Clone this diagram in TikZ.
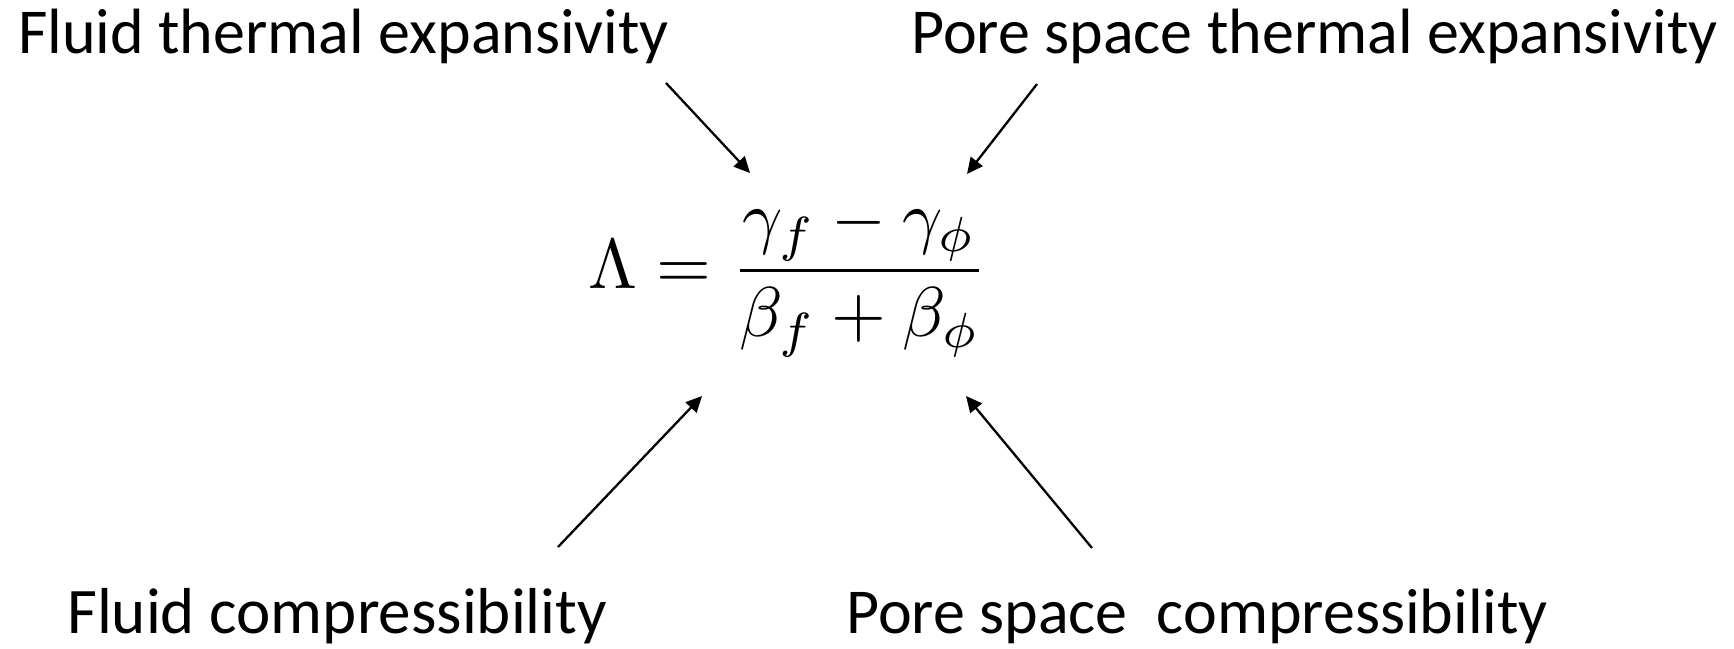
\documentclass[tikz,border=0pt]{standalone}
\usepackage{amsmath}
\usepackage{graphicx}
\usepackage{fontspec}
\setmainfont{Carlito}
\usetikzlibrary{arrows.meta}
\tikzset{
  lbl/.style={inner sep=0pt, anchor=base west, font=\fontsize{64}{77}\selectfont},
  arr/.style={line width=2.3pt, -{Triangle[length=16pt,width=15pt]}},
}
\begin{document}
\begin{tikzpicture}[x=1pt,y=-1pt]
\useasboundingbox (0,0) rectangle (1734,648);
\node[lbl] (fte) at (18,53) {Fluid thermal expansivity};
\node[lbl] (pte) at (911,53) {Pore space thermal expansivity};
\node[lbl, font=\fontsize{65}{78}\selectfont] (fc) at (67,633) {Fluid compressibility};
\node[lbl] (pc) at (846,633) {Pore space\ \ compressibility};
\node[inner sep=0pt] (eq) at (788,278)
  {\scalebox{7.05}{$\displaystyle\Lambda = \frac{\gamma_f - \gamma_\phi}{\beta_f + \beta_\phi}$}};
\coordinate (s1) at (666,83);
\coordinate (t1) at (750,173);
\coordinate (s2) at (1037,84);
\coordinate (t2) at (967,174);
\coordinate (s3) at (558,547);
\coordinate (t3) at (702,396);
\coordinate (s4) at (1092,548);
\coordinate (t4) at (966,396);
\draw[arr] (s1) -- (t1);
\draw[arr] (s2) -- (t2);
\draw[arr] (s3) -- (t3);
\draw[arr] (s4) -- (t4);
\end{tikzpicture}
\end{document}
